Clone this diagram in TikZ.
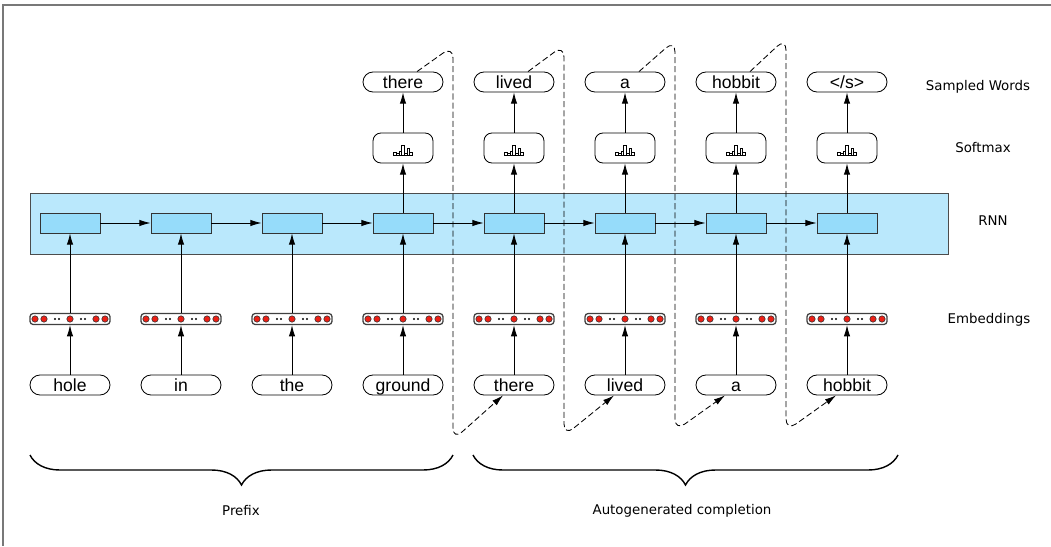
\documentclass[tikz,border=0pt]{standalone}
\usepackage{fontspec}
\setmainfont{Liberation Sans}
\newfontfamily\lblfont{DejaVu Sans}
\usetikzlibrary{arrows.meta,calc,decorations.pathreplacing}
\definecolor{rnnband}{RGB}{186,232,252}
\definecolor{rnnfill}{RGB}{150,220,250}
\definecolor{embred}{RGB}{236,32,22}
\definecolor{framegray}{RGB}{120,120,120}
\tikzset{
  wordbox/.style={draw, semithick, rounded corners=2.5mm, minimum width=2cm, minimum height=0.5cm,
      inner sep=0pt, text height=9.3pt, text depth=0pt, font=\fontsize{12.5}{14}\selectfont},
  embbar/.style={draw=black!75, line width=0.9pt, rounded corners=0.8mm, minimum width=2cm,
      minimum height=0.275cm, inner sep=0pt},
  cellbox/.style={draw=black!80, semithick, fill=rnnfill, minimum width=1.5cm, minimum height=0.5cm, inner sep=0pt},
  smbox/.style={draw, semithick, rounded corners=2mm, minimum width=1.5cm, minimum height=0.75cm, inner sep=0pt},
  edot/.style={draw=black!80, fill=embred, line width=0.4pt},
  lbl/.style={font=\lblfont\fontsize{9.5}{11}\selectfont},
  arr/.style={-{Latex[length=2.8mm,width=1.6mm]}, semithick},
  fb/.style={-{Latex[length=2.8mm,width=1.6mm]}, semithick, dash pattern=on 4.3pt off 2.2pt, rounded corners=0.3cm},
  brc/.style={decorate, decoration={brace, mirror, amplitude=0.75cm}, line width=1pt},
}

\begin{document}
\begin{tikzpicture}[x=0.025cm, y=-0.025cm]
  \useasboundingbox (0,0) rectangle (1051,546);
  \draw[framegray, line width=1pt] (1051,5) -- (3,5) -- (3,546);
  \draw[draw=black!70, semithick, fill=rnnband] (30,193) rectangle (948,254);
  % input words, embeddings, rnn cells
  \foreach \w [count=\i] in {hole,in,the,ground,there,lived,a,hobbit} {
    \pgfmathsetmacro\xc{70+111*(\i-1)}
    \node[wordbox] (in\i) at (\xc,385) {\w};
    \node[embbar] (emb\i) at (\xc,319) {};
    \node[cellbox] (c\i) at (\xc,223) {};
    \draw[arr] (in\i) -- (emb\i);
    \draw[arr] (emb\i) -- (c\i);
    \foreach \dx in {-35,-26,0,26,35} \draw[edot] (\xc+\dx,319) circle (0.08cm);
    \foreach \dx in {-15,-11,11,15} \fill (\xc+\dx,319) circle (0.028cm);
  }
  \foreach \i in {1,...,7} {
    \pgfmathtruncatemacro\j{\i+1}
    \draw[arr] (c\i) -- (c\j);
  }
  % softmax and sampled words
  \foreach \w [count=\k from 4] in {there,lived,a,hobbit,{</s>}} {
    \pgfmathsetmacro\xc{70+111*(\k-1)}
    \node[smbox] (sm\k) at (\xc,148) {};
    \node[wordbox] (smp\k) at (\xc,82) {\w};
    \draw[arr] (c\k) -- (sm\k);
    \draw[arr] (sm\k) -- (smp\k);
    \foreach \h [count=\b] in {3,2,3.5,10,2,7,3}
      \draw[line width=0.4pt] (\xc-9.5+2.7*\b-2.7,155) rectangle ++(2.7,-\h);
  }
  % feedback of sampled words
  \foreach \i/\t/\b in {4/46/440,5/45/436,6/40/431,7/38/431} {
    \pgfmathsetmacro\xc{70+111*(\i-1)}
    \pgfmathtruncatemacro\j{\i+1}
    \draw[fb] ($(smp\i.north)+(14,0)$) -- (\xc+50,\t) -- (\xc+50,\b) -- ($(in\j.south)+(-11,0)$);
  }
  \draw[brc] (30,455) -- (453,455);
  \draw[brc] (473,455) -- (898,455);
  \node[lbl] (lsmp) at (978,87) {Sampled Words};
  \node[lbl] (lsm) at (983,148) {Softmax};
  \node[lbl] (lrnn) at (993,221) {RNN};
  \node[lbl] (lemb) at (989,320) {Embeddings};
  \node[lbl] (lpre) at (241,511) {Prefix};
  \node[lbl] (lauto) at (682,511) {Autogenerated completion};
\end{tikzpicture}
\end{document}
